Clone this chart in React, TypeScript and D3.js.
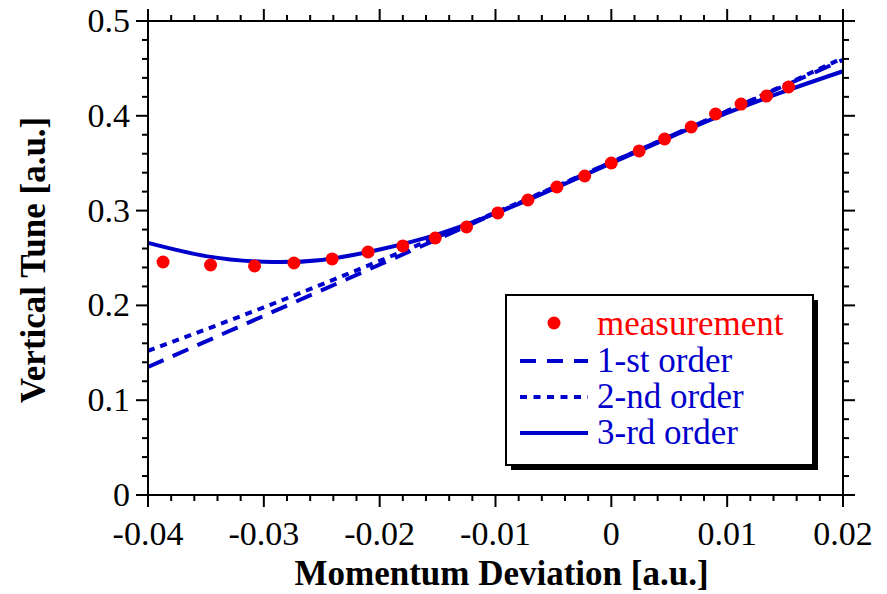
import { useEffect, useRef } from 'react'
import * as d3 from 'd3'

const W = 887, H = 594
const M = { left: 148, right: 44, top: 21, bottom: 99 }

const measX = [-0.0387, -0.0346, -0.0308, -0.0274, -0.0241, -0.0210, -0.0180, -0.0152, -0.0125, -0.0098, -0.0072,
  -0.0047, -0.0023, 0.0000, 0.0024, 0.0046, 0.0069, 0.0090, 0.0112, 0.0134, 0.0153]
const measY = [0.2458, 0.2426, 0.2416, 0.2447, 0.2490, 0.2563, 0.2627, 0.2711, 0.2827, 0.2975, 0.3112,
  0.3249, 0.3365, 0.3502, 0.3629, 0.3755, 0.3882, 0.4019, 0.4124, 0.4209, 0.4304]

// fit curves
const fit1X = [-0.04, 0.02]
const fit1Y = [0.135, 0.459]
const fit2X = [-0.04, -0.03, -0.02, -0.01, 0, 0.01, 0.02]
const fit2Y = [0.152, 0.198, 0.247, 0.298, 0.351, 0.405, 0.461]
const fit3X = [-0.04, -0.035, -0.03, -0.025, -0.02, -0.015, -0.01, -0.005, 0, 0.005, 0.01, 0.015, 0.02]
const fit3Y = [0.266, 0.252, 0.246, 0.248, 0.259, 0.275, 0.297, 0.323, 0.350, 0.377, 0.403, 0.426, 0.447]

const xTicks = [-0.04, -0.03, -0.02, -0.01, 0, 0.01, 0.02]
const yTicks = [0, 0.1, 0.2, 0.3, 0.4, 0.5]

const BLUE = '#0000cc', RED = '#ff0000'
const FONT = '"Liberation Serif", "Times New Roman", serif'

export default function App() {
  const ref = useRef<SVGSVGElement>(null)

  useEffect(() => {
    const svg = d3.select(ref.current)
    svg.selectAll('*').remove()
    const x = d3.scaleLinear([-0.04, 0.02], [M.left, W - M.right])
    const y = d3.scaleLinear([0, 0.5], [H - M.bottom, M.top])
    const x0 = M.left, x1 = W - M.right, y0 = H - M.bottom, y1 = M.top

    // curves
    const line = d3.line<[number, number]>().x(d => x(d[0])).y(d => y(d[1])).curve(d3.curveNatural)
    const curves = [
      { xs: fit1X, ys: fit1Y, dash: '17,10' },
      { xs: fit2X, ys: fit2Y, dash: '7,6' },
      { xs: fit3X, ys: fit3Y, dash: null },
    ]
    curves.forEach(c => {
      svg.append('path')
        .attr('d', line(c.xs.map((v, i) => [v, c.ys[i]] as [number, number])))
        .attr('fill', 'none').attr('stroke', BLUE).attr('stroke-width', 4)
        .attr('stroke-dasharray', c.dash)
    })

    svg.append('g').selectAll('circle').data(measX).join('circle')
      .attr('cx', d => x(d)).attr('cy', (_, i) => y(measY[i]))
      .attr('r', 6.5).attr('fill', RED)

    // frame + ticks
    const g = svg.append('g').attr('stroke', '#000').attr('stroke-width', 2)
    g.append('rect').attr('x', x0).attr('y', y1).attr('width', x1 - x0).attr('height', y0 - y1).attr('fill', 'none')
    const xMinor = d3.range(0, 31).map(i => -0.04 + i * 0.002)
    const yMinor = d3.range(0, 26).map(i => i * 0.02)
    const isMajX = (v: number) => Math.abs(v * 100 - Math.round(v * 100)) < 1e-6
    const isMajY = (v: number) => Math.abs(v * 10 - Math.round(v * 10)) < 1e-6
    xMinor.forEach(v => {
      const L = isMajX(v) ? 12 : 6
      g.append('line').attr('x1', x(v)).attr('x2', x(v)).attr('y1', y0).attr('y2', y0 + L)
      g.append('line').attr('x1', x(v)).attr('x2', x(v)).attr('y1', y1).attr('y2', y1 - L)
    })
    yMinor.forEach(v => {
      const L = isMajY(v) ? 12 : 6
      g.append('line').attr('y1', y(v)).attr('y2', y(v)).attr('x1', x0).attr('x2', x0 - L)
      g.append('line').attr('y1', y(v)).attr('y2', y(v)).attr('x1', x1).attr('x2', x1 + L)
    })

    const fmt = (v: number) => v === 0 ? '0' : String(+v.toFixed(2))
    svg.append('g').selectAll('text').data(xTicks).join('text')
      .attr('x', d => x(d)).attr('y', 545).attr('text-anchor', 'middle')
      .attr('font-family', FONT).attr('font-size', 34).text(d => fmt(d))
    svg.append('g').selectAll('text').data(yTicks).join('text')
      .attr('x', 130).attr('y', d => y(d) + 11).attr('text-anchor', 'end')
      .attr('font-family', FONT).attr('font-size', 34).text(d => fmt(d))

    svg.append('text').attr('x', (x0 + x1) / 2 + 6).attr('y', 585).attr('text-anchor', 'middle')
      .attr('font-family', FONT).attr('font-size', 35).attr('font-weight', 'bold')
      .text('Momentum Deviation [a.u.]')
    svg.append('text').attr('transform', 'translate(45,260) rotate(-90)').attr('text-anchor', 'middle')
      .attr('font-family', FONT).attr('font-size', 35).attr('font-weight', 'bold')
      .text('Vertical Tune [a.u.]')

    // legend
    const lg = svg.append('g')
    lg.append('rect').attr('x', 511).attr('y', 300).attr('width', 307).attr('height', 170).attr('fill', '#000')
    lg.append('rect').attr('x', 506).attr('y', 295).attr('width', 307).attr('height', 170)
      .attr('fill', '#fff').attr('stroke', '#000').attr('stroke-width', 2)
    lg.append('circle').attr('cx', 554).attr('cy', 323).attr('r', 6.5).attr('fill', RED)
    const rows = [
      { label: 'measurement', color: RED, base: 335, dash: undefined as string | null | undefined },
      { label: '1-st order', color: BLUE, base: 372, dash: '16,11' },
      { label: '2-nd order', color: BLUE, base: 408, dash: '7,6.5' },
      { label: '3-rd order', color: BLUE, base: 444, dash: null },
    ]
    rows.forEach((r, i) => {
      if (i > 0) {
        lg.append('line').attr('x1', 520).attr('x2', 588).attr('y1', r.base - 11).attr('y2', r.base - 11)
          .attr('stroke', BLUE).attr('stroke-width', 4).attr('stroke-dasharray', r.dash ?? null)
      }
      lg.append('text').attr('x', 597).attr('y', r.base).attr('fill', r.color)
        .attr('font-family', FONT).attr('font-size', 35).text(r.label)
    })
  }, [])

  return (
    <svg ref={ref} width={W} height={H} viewBox={`0 0 ${W} ${H}`}
      style={{ position: 'absolute', left: 0, top: 0, background: '#fff' }} />
  )
}
